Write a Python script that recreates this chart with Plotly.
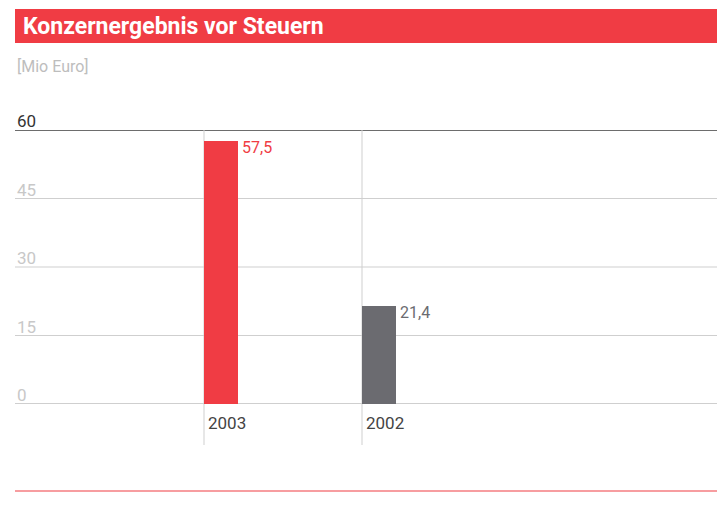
import plotly.graph_objects as go

title = "Konzernergebnis vor Steuern"
unit = "[Mio Euro]"
categories = ["2003", "2002"]
values = [57.5, 21.4]
value_labels = ["57,5", "21,4"]
bar_colors = ["#f03c44", "#6b6b70"]
label_colors = ["#f03c44", "#6b6b70"]
y_ticks = [0, 15, 30, 45, 60]

W, H = 717, 526
L, R, T, B = 15, 0, 130, 122
plot_h = H - T - B
plot_w = W - L - R
cat_px = 158.0
x0_px = 204 - L
xmin = -x0_px / cat_px
xmax = xmin + plot_w / cat_px
bar_w = 34 / cat_px

def py(px):
    return (H - B - px) / plot_h

def pxx(px):
    return (px - L) / plot_w

fig = go.Figure()
fig.add_trace(go.Bar(
    x=list(range(len(categories))), y=values,
    marker=dict(color=bar_colors, line=dict(width=0)),
    width=bar_w, offset=0, hoverinfo="skip", showlegend=False,
))

shapes = []
annotations = []
# title bar
shapes.append(dict(type="rect", xref="paper", yref="paper", x0=0, x1=1,
                   y0=py(43), y1=py(9), fillcolor="#f03c44", line=dict(width=0), layer="below"))
annotations.append(dict(text="<b>" + title + "</b>", xref="paper", yref="paper",
                        x=pxx(21), y=py(26), xanchor="left", yanchor="middle", showarrow=False,
                        font=dict(family="Roboto", size=23, color="white")))
annotations.append(dict(text=unit, xref="paper", yref="paper", x=0, y=py(66),
                        xanchor="left", yanchor="middle", showarrow=False,
                        font=dict(family="Roboto", size=16, color="#bdbdbd")))
# horizontal grid lines
for t in y_ticks:
    top = t == max(y_ticks)
    shapes.append(dict(type="line", xref="paper", yref="y", x0=0, x1=1, y0=t, y1=t,
                       line=dict(color="#6d6d6d" if top else "#cfcfcf", width=2 if (top or t == 0) else 1),
                       layer="below"))
    annotations.append(dict(text=str(t), xref="paper", yref="y", x=0, y=t,
                            xanchor="left", yanchor="bottom", showarrow=False, yshift=-3,
                            font=dict(family="Roboto", size=17, color="#333333" if top else "#c8c8c8")))
# vertical category lines and labels
for i, c in enumerate(categories):
    shapes.append(dict(type="line", xref="x", yref="paper", x0=i, x1=i, y0=py(445), y1=1,
                       line=dict(color="#cfcfcf", width=1), layer="below"))
    annotations.append(dict(text=c, xref="x", yref="paper", x=i, y=py(423), xshift=2,
                            xanchor="left", yanchor="middle", showarrow=False,
                            font=dict(family="Roboto", size=17, color="#444444")))
    annotations.append(dict(text=value_labels[i], xref="x", yref="y", x=i + bar_w, y=values[i],
                            xshift=2, yshift=5, xanchor="left", yanchor="top", showarrow=False,
                            font=dict(family="Roboto", size=16, color=label_colors[i])))
# bottom rule
shapes.append(dict(type="line", xref="paper", yref="paper", x0=0, x1=1, y0=py(491), y1=py(491),
                   line=dict(color="#f47c80", width=1.5)))

fig.update_layout(
    width=W, height=H, margin=dict(l=L, r=R, t=T, b=B, pad=0),
    paper_bgcolor="white", plot_bgcolor="white",
    xaxis=dict(range=[xmin, xmax], showgrid=False, zeroline=False, showticklabels=False,
               showline=False, ticks=""),
    yaxis=dict(range=[0, 60], showgrid=False, zeroline=False, showticklabels=False,
               showline=False, ticks=""),
    shapes=shapes, annotations=annotations, bargap=0,
)
fig.write_html("out.html", config={"displayModeBar": False},
               post_script="document.body.style.margin='0';document.body.style.overflow='hidden';")
